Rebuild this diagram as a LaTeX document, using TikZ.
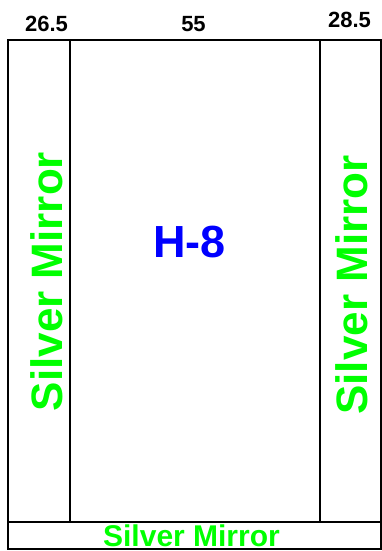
\documentclass[tikz,border=0pt]{standalone}
\usepackage{fontspec}
\setmainfont{Liberation Sans}
\usepackage{tikz}
\usetikzlibrary{positioning}

\definecolor{mirrorgreen}{RGB}{0,255,0}
\definecolor{labelblue}{RGB}{0,0,255}

\begin{document}
\begin{tikzpicture}[x=1pt,y=-1pt,line width=1.5pt,
  widthlabel/.style={anchor=base,inner sep=0pt,font=\fontsize{22}{26}\selectfont\bfseries},
  mirror/.style={anchor=base,inner sep=0pt,text=mirrorgreen,font=\fontsize{44}{50}\selectfont\bfseries},
  panelname/.style={anchor=base,inner sep=0pt,text=labelblue,font=\fontsize{45}{52}\selectfont\bfseries}]
\useasboundingbox (0,0) rectangle (382,551);
% frame
\coordinate (TL) at (8,40);
\coordinate (BR) at (381,549);
\coordinate (L1) at (70,40);
\coordinate (L2) at (70,522);
\coordinate (R1) at (320,40);
\coordinate (R2) at (320,522);
\coordinate (B1) at (8,522);
\coordinate (B2) at (381,522);
\draw (TL) rectangle (BR);
\draw (L1) -- (L2);
\draw (R1) -- (R2);
\draw (B1) -- (B2);
% widths
\node[widthlabel](wl) at (46.5,32) {26.5};
\node[widthlabel](wm) at (193.5,32) {55};
\node[widthlabel](wr) at (349.5,28) {28.5};
% panels
\node[mirror,rotate=90](ml) at (62,281.5) {Silver Mirror};
\node[mirror,rotate=90](mr) at (367,285) {Silver Mirror};
\node[mirror,font=\fontsize{30}{34}\selectfont\bfseries](mb) at (191.5,546) {Silver Mirror};
\node[panelname](h) at (189.5,257) {H-8};
\end{tikzpicture}
\end{document}
